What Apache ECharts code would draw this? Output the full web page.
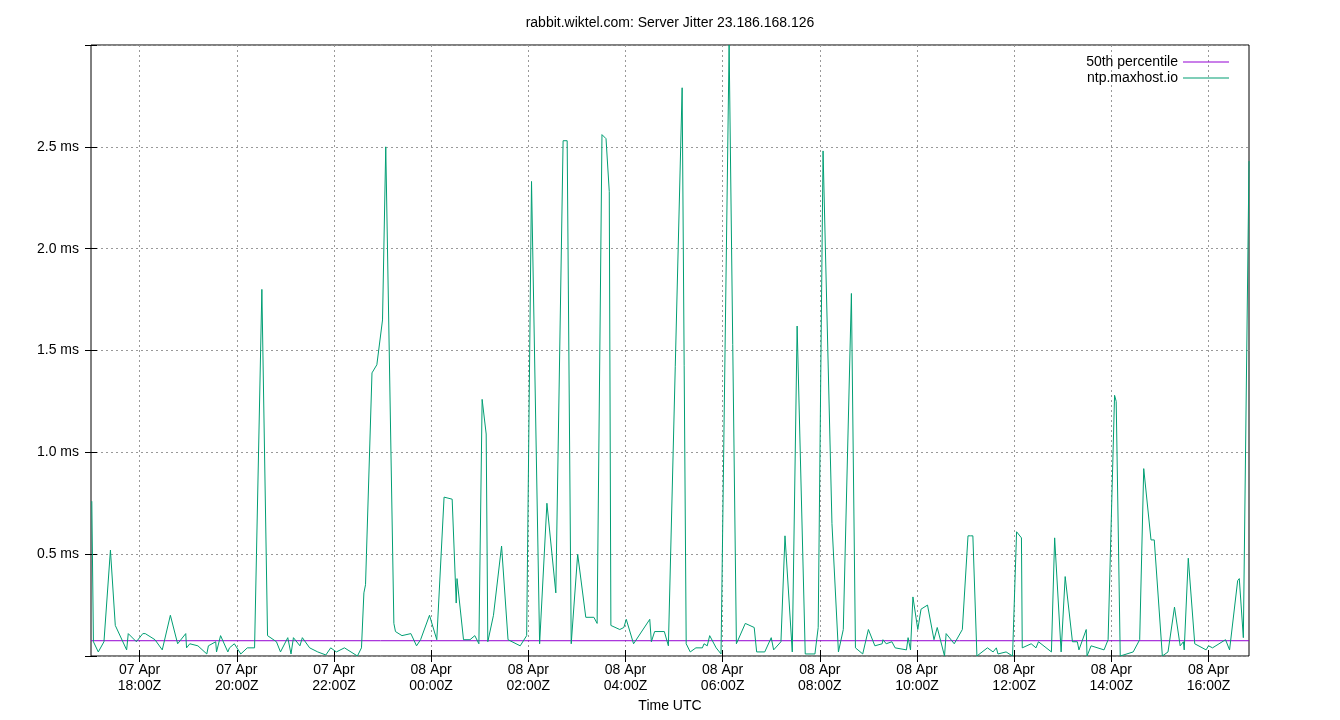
<!DOCTYPE html>
<html>
<head>
<meta charset="utf-8">
<script src="https://cdn.jsdelivr.net/npm/echarts@6/dist/echarts.min.js"></script>
<style>
html, body { margin: 0; padding: 0; background: #fff; }
#main { width: 1340px; height: 720px; }
</style>
</head>
<body>
<div id="main"></div>
<script>
// minutes since 07 Apr 17:00Z
var minutes = [1,3,9,16,24,30,44,46,56,64,67,79,88,98,107,117,118,122,132,143,145,154,155,160,169,171,177,185,193,202,211,218,229,234,243,247,250,258,261,270,280,290,296,303,313,329,334,337,339,347,353,360,364,374,376,384,395,402,407,418,427,436,446,451,452,460,468,474,479,483,488,490,497,507,515,530,538,544,554,563,574,583,588,593,601,611,621,625,631,636,640,642,653,658,661,670,690,692,696,708,713,730,735,740,747,755,757,761,764,772,778,788,797,808,819,822,832,840,843,852,857,866,872,874,882,894,898,904,915,923,929,939,944,953,960,968,977,978,982,989,993,1007,1009,1012,1015,1021,1025,1033,1041,1045,1054,1056,1066,1076,1083,1086,1089,1094,1107,1114,1118,1120,1130,1138,1143,1149,1150,1161,1167,1170,1186,1190,1198,1203,1212,1218,1220,1229,1230,1235,1251,1256,1264,1266,1271,1287,1295,1300,1309,1313,1323,1330,1338,1345,1349,1350,1355,1363,1377,1380,1385,1401,1406,1416,1418,1423,1430];
// jitter in ms
var jitter = [0.76,0.07,0.02,0.07,0.52,0.15,0.03,0.11,0.07,0.11,0.11,0.08,0.03,0.2,0.06,0.11,0.04,0.06,0.05,0.01,0.05,0.07,0.02,0.1,0.02,0.04,0.06,0.01,0.04,0.04,1.8,0.1,0.07,0.02,0.09,0.01,0.09,0.05,0.09,0.04,0.02,0.005,0.04,0.02,0.04,0,0.04,0.31,0.35,1.39,1.43,1.65,2.5,0.16,0.12,0.1,0.11,0.05,0.08,0.2,0.08,0.78,0.77,0.26,0.38,0.08,0.08,0.1,0.06,1.26,1.09,0.07,0.2,0.54,0.08,0.05,0.1,2.33,0.06,0.75,0.31,2.53,2.53,0.06,0.5,0.19,0.19,0.16,2.56,2.54,2.28,0.15,0.13,0.14,0.18,0.06,0.18,0.07,0.12,0.12,0.05,2.79,0.06,0.02,0.04,0.04,0.06,0.05,0.1,0.04,0.01,3.0,0.06,0.16,0.14,0.02,0.02,0.09,0.03,0.07,0.59,0.02,1.62,1.62,0.01,0.01,0.14,2.48,0.65,0.02,0.13,1.78,0.04,0.01,0.13,0.05,0.06,0.08,0.06,0.07,0.04,0.03,0.09,0.03,0.29,0.13,0.23,0.25,0.08,0.14,0.0,0.11,0.06,0.13,0.59,0.59,0.59,0.0,0.04,0.02,0.04,0.01,0.02,0.0,0.61,0.58,0.04,0.06,0.04,0.07,0.02,0.58,0.02,0.39,0.07,0.07,0.03,0.13,0.0,0.05,0.03,0.08,1.28,1.25,0.0,0.02,0.08,0.92,0.57,0.57,0.0,0.02,0.24,0.05,0.07,0.03,0.48,0.06,0.03,0.05,0.04,0.08,0.03,0.37,0.38,0.09,2.43];
var median = 0.075;
var tickMinutes = [60,180,300,420,540,660,780,900,1020,1140,1260,1380];

var dom = document.getElementById('main');
var myChart = echarts.init(dom);
var font = 'Liberation Sans';

var points = [];
for (var i = 0; i < minutes.length; i++) {
    points.push([minutes[i], jitter[i]]);
}

function timeLabel(v) {
    var h = 17 + v / 60;
    var day = h >= 24 ? '08' : '07';
    h = Math.round(h) % 24;
    return day + ' Apr\n' + (h < 10 ? '0' : '') + h + ':00Z';
}

var tick = { show: true, inside: true, length: 6, lineStyle: { color: '#000' } };

var option = {
    animation: false,
    backgroundColor: '#fff',
    textStyle: { fontFamily: font },
    title: {
        text: 'rabbit.wiktel.com: Server Jitter 23.186.168.126',
        left: 'center',
        top: 11,
        textStyle: { fontSize: 14, fontWeight: 'normal', color: '#000', fontFamily: font }
    },
    legend: {
        orient: 'vertical',
        right: 106,
        top: 50,
        align: 'right',
        itemWidth: 46,
        itemHeight: 1,
        itemGap: 2,
        icon: 'rect',
        textStyle: { fontSize: 14, color: '#000', fontFamily: font },
        data: ['50th percentile', 'ntp.maxhost.io']
    },
    grid: {
        left: 91, right: 91, top: 45, bottom: 64,
        show: true, borderColor: '#000', borderWidth: 1
    },
    xAxis: [{
        type: 'value',
        min: 0,
        max: 1430,
        name: 'Time UTC',
        nameLocation: 'middle',
        nameGap: 42,
        nameTextStyle: { fontSize: 14, color: '#000' },
        axisLine: { show: false },
        axisTick: echarts.util.extend({ customValues: tickMinutes }, tick),
        axisLabel: { customValues: tickMinutes, color: '#000', fontSize: 14, lineHeight: 16, margin: 6, formatter: timeLabel },
        splitLine: { show: true, lineStyle: { color: '#999', type: [2, 3] } }
    }, {
        type: 'value',
        position: 'top',
        min: 0,
        max: 1430,
        axisLine: { show: false },
        axisTick: echarts.util.extend({ customValues: tickMinutes }, tick),
        axisLabel: { show: false, customValues: tickMinutes },
        splitLine: { show: false }
    }],
    yAxis: [{
        type: 'value',
        min: 0,
        max: 3,
        interval: 0.5,
        axisLine: { show: false },
        axisTick: tick,
        axisLabel: {
            color: '#000', fontSize: 14, margin: 12,
            formatter: function (v) { return (v === 0 || v >= 3) ? '' : v.toFixed(1) + ' ms'; }
        },
        splitLine: { show: true, lineStyle: { color: '#999', type: [2, 3] } }
    }, {
        type: 'value',
        position: 'right',
        min: 0,
        max: 3,
        interval: 0.5,
        axisLine: { show: false },
        axisTick: tick,
        axisLabel: { show: false },
        splitLine: { show: false }
    }],
    series: [{
        name: '50th percentile',
        type: 'line',
        color: '#9400d3',
        symbol: 'none',
        lineStyle: { width: 1 },
        data: [[0, median], [1430, median]]
    }, {
        name: 'ntp.maxhost.io',
        type: 'line',
        color: '#009e73',
        symbol: 'none',
        lineStyle: { width: 1 },
        clip: true,
        data: points
    }]
};
myChart.setOption(option);
</script>
</body>
</html>
